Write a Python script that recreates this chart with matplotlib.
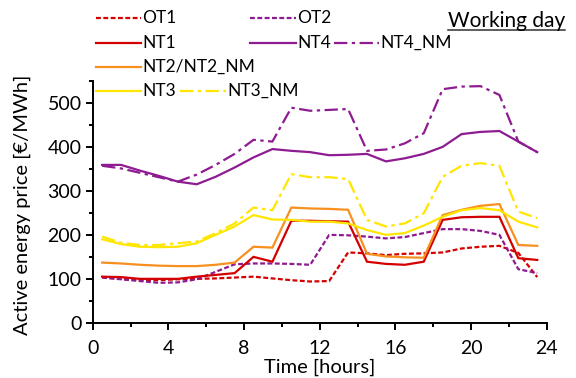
import matplotlib
matplotlib.use("Agg")
import matplotlib.pyplot as plt
from matplotlib.lines import Line2D
from matplotlib.ticker import MultipleLocator
import numpy as np

hours = [0.5, 1.5, 2.5, 3.5, 4.5, 5.5, 6.5, 7.5, 8.5, 9.5, 10.5, 11.5,
         12.5, 13.5, 14.5, 15.5, 16.5, 17.5, 18.5, 19.5, 20.5, 21.5, 22.5, 23.5]

OT1 = [104, 101, 98, 98, 100, 101, 102, 104, 106, 102, 98, 95,
       96, 161, 159, 155, 158, 159, 161, 170, 174, 176, 160, 105]
OT2 = [104, 100, 96, 92, 93, 100, 117, 134, 136, 136, 135, 133,
       201, 200, 197, 193, 196, 205, 214, 214, 210, 201, 123, 114]
NT1 = [106, 105, 101, 101, 101, 106, 110, 114, 151, 140, 233, 233,
       232, 231, 140, 135, 133, 140, 235, 241, 242, 242, 148, 144]
NT2 = [138, 136, 133, 131, 130, 130, 133, 138, 174, 172, 263, 261,
       260, 258, 158, 152, 150, 149, 246, 258, 267, 271, 178, 176]
NT3 = [191, 180, 174, 173, 174, 182, 201, 220, 246, 236, 235, 231,
       231, 227, 212, 201, 205, 222, 242, 257, 262, 257, 231, 218]
NT3_NM = [197, 183, 178, 178, 182, 186, 205, 227, 263, 257, 339, 332,
          332, 328, 235, 220, 227, 250, 333, 358, 364, 358, 254, 239]
NT4 = [360, 360, 347, 335, 322, 316, 333, 354, 377, 396, 392, 389,
       382, 383, 385, 368, 375, 385, 401, 430, 435, 437, 413, 389]
NT4_NM = [358, 352, 342, 332, 322, 338, 360, 385, 417, 413, 490, 483,
          485, 487, 392, 395, 409, 432, 532, 538, 539, 519, 413, 389]

RED = "#d40000"
PURPLE = "#8e1b91"
ORANGE = "#f7901e"
YELLOW = "#ffe600"

DASH = (2.2, 1.1)
DASHDOT = (6, 2, 1.5, 2)

plt.rcParams['font.family'] = ['Lato', 'DejaVu Sans']

W, H = 576, 378
fig = plt.figure(figsize=(W / 100, H / 100), dpi=100)
ax = fig.add_axes([92.7 / W, 1 - 323.3 / H, (546.7 - 92.7) / W, (323.3 - 81.3) / H])
AXW = 546.7 - 92.7
AXH = 323.3 - 81.3

lw = 1.6
series = [
    (OT1, RED, DASH),
    (OT2, PURPLE, DASH),
    (NT1, RED, None),
    (NT2, ORANGE, None),
    (NT3, YELLOW, None),
    (NT3_NM, YELLOW, DASHDOT),
    (NT4, PURPLE, None),
    (NT4_NM, PURPLE, DASHDOT),
]
for vals, col, dash in series:
    if dash is None:
        ax.plot(hours, vals, color=col, lw=lw, solid_joinstyle='miter')
    else:
        ax.plot(hours, vals, color=col, lw=lw, dashes=dash)

ax.set_xlim(0, 24)
ax.set_ylim(0, 550)
ax.xaxis.set_major_locator(MultipleLocator(4))
ax.xaxis.set_minor_locator(MultipleLocator(2))
ax.yaxis.set_major_locator(MultipleLocator(100))
ax.yaxis.set_minor_locator(MultipleLocator(50))
ax.set_yticks(np.arange(0, 501, 100))
for s in ['top', 'right']:
    ax.spines[s].set_visible(False)
for s in ['left', 'bottom']:
    ax.spines[s].set_linewidth(1.4)
ax.tick_params(which='major', direction='out', length=5, width=1.4, labelsize=14)
ax.tick_params(axis='x', which='major', pad=7)
ax.tick_params(axis='y', which='major', pad=3)
ax.tick_params(which='minor', direction='out', length=3, width=1.4)
ax.set_xlabel("Time [hours]", fontsize=14.5)
ax.set_ylabel("Active energy price [€/MWh]", fontsize=14.5)
ax.xaxis.set_label_coords(0.5, (323.3 - 359) / AXH)
ax.yaxis.set_label_coords((31 - 92.7) / AXW, (323.3 - 205) / AXH)
ax.patch.set_alpha(0)

# legend drawn manually
def px(x, y):
    return x / W, 1 - y / H

legend_items = [
    (96, 141, 18, RED, DASH, "OT1"),
    (250, 296, 18, PURPLE, DASH, "OT2"),
    (96, 141, 43, RED, None, "NT1"),
    (250, 296, 43, PURPLE, None, "NT4"),
    (334, 379, 43, PURPLE, DASHDOT, "NT4_NM"),
    (96, 141, 67, ORANGE, None, "NT2/NT2_NM"),
    (96, 141, 91, YELLOW, None, "NT3"),
    (180, 226, 91, YELLOW, DASHDOT, "NT3_NM"),
]
for x0, x1, y, col, dash, lab in legend_items:
    a = px(x0, y)
    b = px(x1, y)
    kw = dict(color=col, lw=lw, transform=fig.transFigure)
    if dash is not None:
        kw['dashes'] = dash
    fig.add_artist(Line2D([a[0], b[0]], [a[1], b[1]], **kw))
    tx, ty = px(x1 + 1, y)
    fig.text(tx, ty, lab, fontsize=12.5, ha='left', va='center')

tx, ty = px(565, 21)
wd = fig.text(tx, ty, "Working day", fontsize=15, ha='right', va='center')
fig.canvas.draw()
bb = wd.get_window_extent()
uy = bb.y0 + 1.5
fig.add_artist(Line2D([bb.x0 / W, bb.x1 / W], [uy / H, uy / H], color='#303030', lw=1.1,
                      transform=fig.transFigure))

fig.savefig("out.png", dpi=100, facecolor='white')
